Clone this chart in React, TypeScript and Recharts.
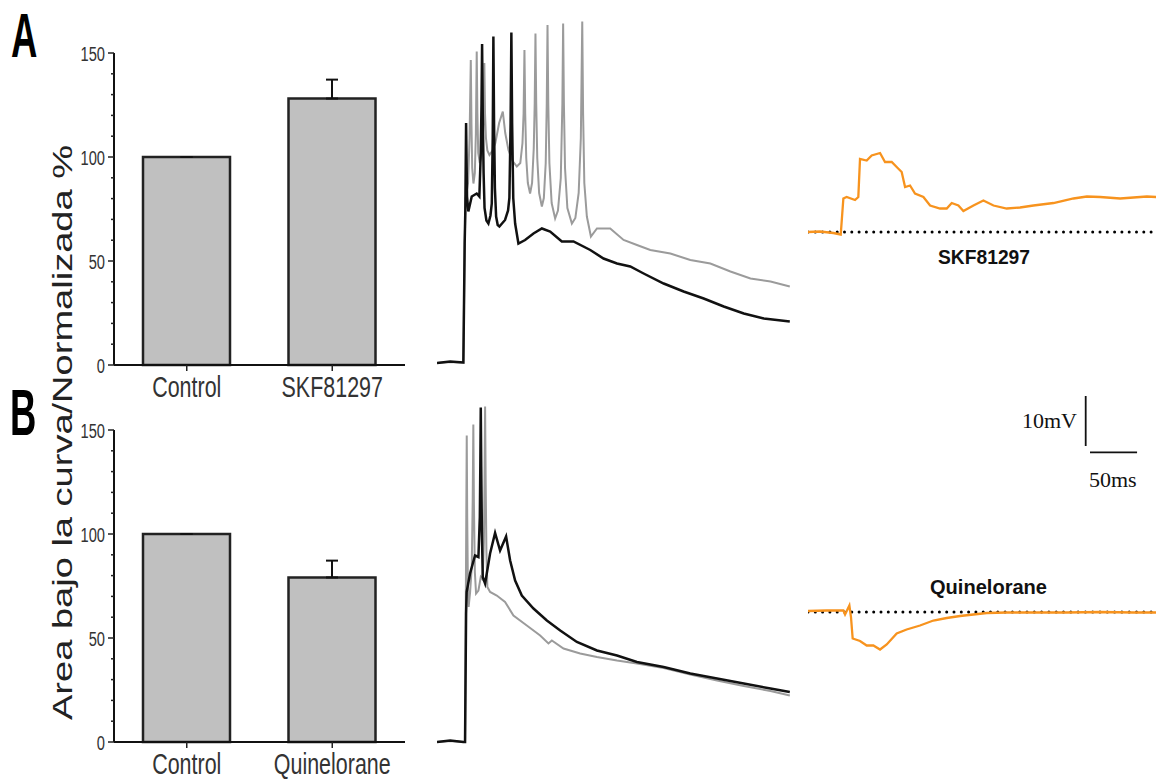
import React from 'react';
import { BarChart, Bar, XAxis, YAxis, ErrorBar, LineChart, Line, ReferenceLine } from 'recharts';

const SANS = '"Liberation Sans", Arial, sans-serif';
const SERIF = '"Liberation Serif", "Times New Roman", serif';

// bar panels (area under curve, normalized %)
const categoriesA = ['Control', 'SKF81297'];
const valuesA = [100, 128.1];
const errorsA = [[0, 0], [0, 9.1]];
const categoriesB = ['Control', 'Quinelorane'];
const valuesB = [100, 79.1];
const errorsB = [[0, 0], [0, 8.1]];
const yTicks = [0, 10, 20, 30, 40, 50, 60, 70, 80, 90, 100, 110, 120, 130, 140, 150];
const yMajorTicks = [0, 50, 100, 150];

// recorded traces, [ms, mV above resting level]
const controlA: [number, number][] = [
  [0, 0], [14, 0.3], [28, 0.1], [29.4, 23.9], [30.1, 30.6], [30.9, 48], [31.9, 33.3], [33.3, 30.3],
  [36.9, 33.3], [42.2, 33.9], [45, 33.3], [46.5, 42], [47.3, 52], [47.9, 63.8], [48.6, 50], [49.5, 38],
  [50.5, 31], [52.5, 28.5], [54.6, 27.9], [56.8, 29.5], [58.2, 31.9], [59.2, 45], [59.9, 65.3], [60.6, 48],
  [61.5, 35], [62.8, 29.3], [64.5, 27.6], [66.3, 27.3], [72.3, 28.6], [75.5, 30.5], [76.9, 33], [78.2, 48],
  [79, 66.1], [79.8, 48], [81, 33], [83, 27.9], [86.5, 23.9], [93.6, 24.6], [102.5, 25.9], [111.4, 26.9],
  [120.2, 26.3], [132.6, 24.3], [145, 24.3], [162.8, 22.6], [176.9, 20.9], [191.2, 19.9], [205.3, 19.3],
  [219.5, 17.9], [240.8, 15.9], [262, 14.3], [283.3, 12.9], [304.6, 11.3], [325.9, 9.9], [347.2, 8.9], [374.8, 8.3],
];
const skfA: [number, number][] = [
  [0, 0], [14, 0.2], [28, 0], [29.4, 23.9], [30.5, 33], [33, 36], [34.6, 45], [35.9, 60.6], [36.6, 48],
  [37.4, 39], [38.7, 35.9], [40.2, 38], [41.3, 46], [42.2, 62.3], [42.9, 50], [43.8, 42], [45.5, 40],
  [47.8, 42], [49.4, 48], [50.3, 60], [51, 50], [52, 45], [53.5, 42.5], [55.7, 41.6], [59, 42.5], [62, 44],
  [66, 48], [69.9, 50.3], [72.5, 46], [75.9, 42.6], [80, 40.5], [84.8, 39.3], [88.5, 40], [90.8, 44],
  [92, 50], [92.9, 62.6], [93.7, 50], [94.8, 41], [96.5, 36], [98.9, 33.9], [101, 36], [102.8, 43],
  [103.8, 52], [104.6, 65.9], [105.4, 52], [106.5, 41], [108.5, 34], [111.4, 31.3], [113.5, 33], [115.5, 40],
  [116.6, 52], [117.4, 67.6], [118.2, 52], [119.4, 40], [121.8, 32], [125.5, 28.9], [128.5, 30.5],
  [131.5, 37], [133.2, 52], [134, 67.9], [134.8, 52], [136, 39], [138.5, 31], [143.3, 27.9], [147, 29],
  [150.5, 34], [152.8, 45], [154.3, 68.3], [155.2, 50], [156.5, 36], [159.2, 29.3], [163.5, 25.3],
  [169.9, 26.9], [184, 26.9], [198.2, 24.6], [212.4, 23.6], [226.6, 22.6], [247.9, 21.9], [269.1, 20.6],
  [290.4, 19.9], [311.7, 18.3], [333, 16.9], [354.3, 16.3], [374.8, 15.3],
];
const controlB: [number, number][] = [
  [0, 0], [14, 0.3], [28, 0], [29.8, 0], [30.9, 25.7], [31.5, 30], [35.1, 33.7], [40.4, 37.3], [44, 37],
  [45.5, 45], [46, 55], [46.5, 66.9], [47, 55], [47.7, 42], [48.6, 33], [51.1, 31.7], [56.4, 37.7],
  [61.7, 41.8], [67, 38.3], [73.4, 41.1], [77.7, 36.3], [83, 32.3], [90.1, 29.3], [102.5, 26.7],
  [116.7, 24.3], [130.9, 22.3], [148.6, 20], [169.9, 18.3], [191.2, 17.3], [212.4, 16], [240.8, 15],
  [269.1, 13.7], [297.5, 12.7], [325.9, 11.7], [354.3, 10.7], [374.8, 10],
];
const quinB: [number, number][] = [
  [0, 0], [14, 0.2], [28, 0], [29.8, 0], [30.5, 25], [31.1, 45], [31.6, 61.3], [32.1, 45], [32.8, 32],
  [33.6, 27], [35.2, 30], [36.9, 35], [37.9, 48], [38.6, 63.5], [39.2, 48], [40.2, 34], [41.5, 29.7],
  [44, 30.3], [46.5, 33], [48.5, 32.5], [49.8, 40], [50.5, 52], [51.1, 67.1], [51.7, 52], [52.5, 38],
  [53.5, 31], [56.4, 30], [63.5, 29.3], [72.3, 28], [81.2, 25.3], [95.4, 23.3], [109.6, 21.3], [118.4, 19.7],
  [122, 20.3], [134.4, 18.7], [152.1, 17.7], [169.9, 17], [191.2, 16.3], [212.4, 15.7], [240.8, 14.8],
  [269.1, 13.5], [297.5, 12.3], [325.9, 11.2], [354.3, 10.2], [374.8, 9.3],
];
// subtraction traces (drug - control)
const diffSkf: [number, number][] = [
  [0, 0], [12.8, 0.1], [27, -0.2], [34.8, -0.5], [37.6, 6.7], [41.1, 7], [50, 6.4], [53.5, 7], [55.3, 14.6],
  [62.4, 14.3], [67.7, 15.3], [76.6, 15.8], [81.9, 14], [89, 14], [94.3, 13], [99.6, 12], [103.2, 9],
  [108.5, 9.3], [113.8, 7.7], [122.7, 7], [129.8, 5.3], [140.4, 4.7], [147.5, 4.7], [152.8, 5.8], [159.9, 5.3],
  [165.2, 4.2], [175.9, 5.3], [186.5, 6.3], [197.2, 5.3], [211.3, 4.7], [225.5, 4.9], [239.7, 5.3], [261, 5.8],
  [282.3, 6.7], [296.5, 7.1], [310.6, 7], [331.9, 6.7], [346.1, 6.9], [360.3, 7.1], [370.2, 7],
];
const diffQuin: [number, number][] = [
  [0, 0.2], [19.9, 0.3], [37.6, 0.3], [39.4, -0.5], [44, 1.3], [45.7, -1], [47.5, -5.3], [55.3, -5.8],
  [62.4, -6.7], [69.5, -6.7], [76.6, -7.5], [83.7, -6.5], [94.3, -4.3], [104.9, -3.5], [119.1, -2.7],
  [133.3, -1.7], [147.5, -1.2], [161.7, -0.8], [175.9, -0.5], [190.1, -0.2], [211.3, -0.1], [239.7, -0.1],
  [275.2, -0.1], [310.6, 0], [346.1, -0.1], [370.2, -0.1],
];

const PX_PER_MS = 353 / 375;
const PX_PER_MV = 5;
const scaleMv = 10;
const scaleMs = 50;

const toPts = (arr: [number, number][]) => arr.map(([t, v]) => ({ t, v }));

const YTick = (props: any) => {
  const { x, y, payload } = props;
  const major = yMajorTicks.includes(payload.value);
  return (
    <g>
      <line x1={x - (major ? 6 : 3)} x2={x} y1={y} y2={y} stroke="#222" strokeWidth={1.5} />
      {major && (
        <text transform={`translate(${x - 9},${y + 7.5}) scale(0.7,1)`} textAnchor="end" fontSize={21}
          fill="#333" fontFamily={SANS}>{payload.value}</text>
      )}
    </g>
  );
};

const XTick = (props: any) => {
  const { x, y, payload } = props;
  return (
    <g>
      <line x1={x} x2={x} y1={y} y2={y + 6} stroke="#222" strokeWidth={1.5} />
      <text transform={`translate(${x},${y + 31.5}) scale(0.74,1)`} textAnchor="middle" fontSize={29}
        fill="#333" fontFamily={SANS}>{payload.value}</text>
    </g>
  );
};

function AreaBars({ cats, vals, errs, top }: { cats: string[]; vals: number[]; errs: number[][]; top: number }) {
  const data = cats.map((name, i) => ({ name, value: vals[i], err: errs[i] }));
  return (
    <div style={{ position: 'absolute', left: 0, top }}>
      <BarChart width={420} height={420} data={data} margin={{ top: 53, right: 15, left: 54, bottom: 15 }}>
        <XAxis dataKey="name" height={40} tick={<XTick />} tickSize={0} tickMargin={0} tickLine={false}
          axisLine={{ stroke: '#111', strokeWidth: 2 }} />
        <YAxis width={60} domain={[0, 150]} ticks={yTicks} interval={0} tick={<YTick />} tickSize={0}
          tickMargin={0} tickLine={false} axisLine={{ stroke: '#111', strokeWidth: 2 }} />
        <Bar dataKey="value" fill="#c0c0c0" stroke="#222" strokeWidth={2.5} barSize={87} isAnimationActive={false}>
          <ErrorBar dataKey="err" width={6} stroke="#111" strokeWidth={2} direction="y" />
        </Bar>
      </BarChart>
    </div>
  );
}

function Traces({ gray, black, top }: { gray: [number, number][]; black: [number, number][]; top: number }) {
  return (
    <div style={{ position: 'absolute', left: 437, top }}>
      <LineChart width={353} height={365} margin={{ top: 0, right: 0, bottom: 0, left: 0 }}>
        <XAxis type="number" dataKey="t" domain={[0, 375]} hide allowDataOverflow />
        <YAxis type="number" dataKey="v" domain={[-3, 70]} hide allowDataOverflow />
        <Line data={toPts(gray)} dataKey="v" stroke="#9b9b9b" strokeWidth={2} dot={false} type="linear"
          isAnimationActive={false} />
        <Line data={toPts(black)} dataKey="v" stroke="#111" strokeWidth={2.5} dot={false} type="linear"
          isAnimationActive={false} />
      </LineChart>
    </div>
  );
}

function DiffTrace({ pts, top, domain }: { pts: [number, number][]; top: number; domain: [number, number] }) {
  const h = (domain[1] - domain[0]) * PX_PER_MV;
  return (
    <div style={{ position: 'absolute', left: 808, top }}>
      <LineChart width={348} height={h} margin={{ top: 0, right: 0, bottom: 0, left: 0 }}>
        <XAxis type="number" dataKey="t" domain={[0, 370]} hide allowDataOverflow />
        <YAxis type="number" dataKey="v" domain={domain} hide allowDataOverflow />
        <ReferenceLine y={0} stroke="#000" strokeWidth={3} strokeDasharray="0 7.3" strokeLinecap="round" />
        <Line data={toPts(pts)} dataKey="v" stroke="#f7931e" strokeWidth={2.3} dot={false} type="linear"
          isAnimationActive={false} />
      </LineChart>
    </div>
  );
}

export default function App() {
  return (
    <div style={{ position: 'absolute', left: 0, top: 0, width: 1156, height: 780, background: '#fff', overflow: 'hidden' }}>
      <AreaBars cats={categoriesA} vals={valuesA} errs={errorsA} top={0} />
      <AreaBars cats={categoriesB} vals={valuesB} errs={errorsB} top={377} />
      <Traces gray={skfA} black={controlA} top={363 - 70 * PX_PER_MV} />
      <Traces gray={quinB} black={controlB} top={741.7 - 70 * PX_PER_MV} />
      <DiffTrace pts={diffSkf} top={231.7 - 18 * PX_PER_MV} domain={[-3, 18]} />
      <DiffTrace pts={diffQuin} top={611.7 - 5 * PX_PER_MV} domain={[-10, 5]} />
      <svg width={1156} height={780} style={{ position: 'absolute', left: 0, top: 0, pointerEvents: 'none' }}>
        <text transform="translate(11,57) scale(0.58,1)" fontSize={63} fontWeight="bold" fontFamily={SANS} fill="#000">A</text>
        <text transform="translate(10,435) scale(0.56,1)" fontSize={65} fontWeight="bold" fontFamily={SANS} fill="#000">B</text>
        <text transform="translate(72,432.5) rotate(-90)" textAnchor="middle" fontSize={28} fontFamily={SANS}
          fill="#222" textLength={575} lengthAdjust="spacingAndGlyphs">Area bajo la curva/Normalizada %</text>
        <text x={984} y={263.5} textAnchor="middle" fontSize={21} fontWeight="bold" fontFamily={SANS} fill="#111"
          textLength={92} lengthAdjust="spacingAndGlyphs">SKF81297</text>
        <text x={988.5} y={594} textAnchor="middle" fontSize={20} fontWeight="bold" fontFamily={SANS} fill="#111"
          textLength={117} lengthAdjust="spacingAndGlyphs">Quinelorane</text>
        <text x={1077} y={428} textAnchor="end" fontSize={22} fontFamily={SERIF} fill="#111">10mV</text>
        <text x={1089} y={486.5} fontSize={22} fontFamily={SERIF} fill="#111">50ms</text>
        <line x1={1085.7} x2={1085.7} y1={396} y2={396 + scaleMv * PX_PER_MV} stroke="#111" strokeWidth={1.8} />
        <line x1={1090} x2={1090 + scaleMs * PX_PER_MS} y1={452.3} y2={452.3} stroke="#111" strokeWidth={1.8} />
      </svg>
    </div>
  );
}
